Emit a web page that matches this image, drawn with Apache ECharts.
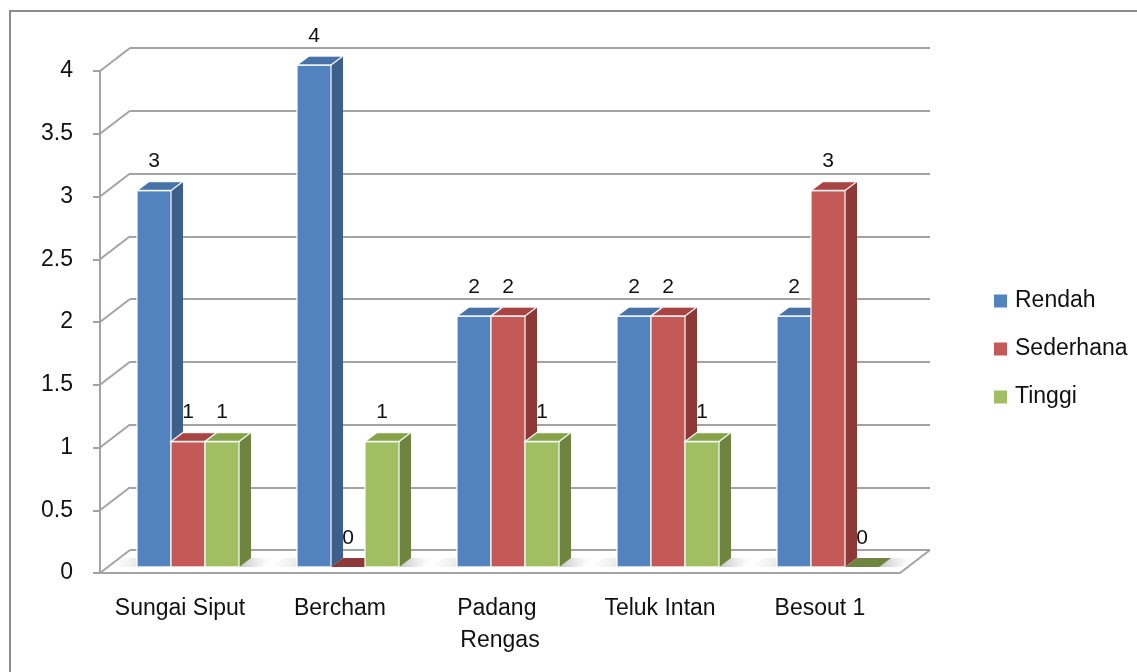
<!DOCTYPE html>
<html><head><meta charset="utf-8">
<script src="https://cdn.jsdelivr.net/npm/echarts@6/dist/echarts.min.js"></script>
<style>html,body{margin:0;padding:0;background:#fff}#c{width:1137px;height:672px}</style>
</head><body><div id="c"></div>
<script>
const categories = ['Sungai Siput', 'Bercham', 'Padang Rengas', 'Teluk Intan', 'Besout 1'];
const seriesNames = ['Rendah', 'Sederhana', 'Tinggi'];
const rendah = [3, 4, 2, 2, 2];
const sederhana = [1, 0, 2, 2, 3];
const tinggi = [1, 1, 1, 1, 0];
const yTicks = [0, 0.5, 1, 1.5, 2, 2.5, 3, 3.5, 4];

const values = [rendah, sederhana, tinggi];
const frontColors = ['#5283be', '#c45a57', '#a0bf62'];
const topColors = ['#4773a8', '#a84441', '#86a34c'];
const sideColors = ['#3d5f8c', '#8c3937', '#6f843e'];
const FONT = 'Liberation Sans';
const GRIDC = '#a3a3a3';
const WALL_DX = 30, WALL_DY = -23;
const BAR_DX = 8, BAR_DY = -6, DEPTH_DX = 12, DEPTH_DY = -9;

function barSeries(s) {
  return {
    type: 'custom', name: seriesNames[s], xAxisIndex: 0, yAxisIndex: 0, z: 5 + s,
    itemStyle: { color: frontColors[s] },
    data: values[s].map((v, i) => [i, v]),
    renderItem(params, api) {
      const cat = api.value(0), val = api.value(1);
      const top = api.coord([cat, val]);
      const base = api.coord([cat, 0]);
      const band = api.size([1, 0])[0];
      const w = band * 34 / 160;
      const x0 = top[0] - 1.5 * w + s * w + BAR_DX;
      const x1 = x0 + w;
      const yt = top[1] + BAR_DY, yb = base[1] + BAR_DY;
      const st = { stroke: 'rgba(255,255,255,0.9)', lineWidth: 1.3 };
      return { type: 'group', children: [
        { type: 'polygon', shape: { points: [[x1, yt], [x1 + DEPTH_DX, yt + DEPTH_DY], [x1 + DEPTH_DX, yb + DEPTH_DY], [x1, yb]] }, style: { fill: sideColors[s] } },
        { type: 'rect', shape: { x: x0, y: yt, width: w, height: yb - yt }, style: Object.assign({ fill: frontColors[s] }, val > 0 ? st : {}) },
        { type: 'polygon', shape: { points: [[x0, yt], [x0 + DEPTH_DX, yt + DEPTH_DY], [x1 + DEPTH_DX, yt + DEPTH_DY], [x1, yt]] }, style: Object.assign({ fill: val > 0 ? topColors[s] : sideColors[s] }, val > 0 ? st : {}) },
        { type: 'text', z2: 50, x: (x0 + x1) / 2, y: yt - 29, style: { text: String(val), font: '21px "Liberation Sans"', fontSize: 21, fontFamily: FONT, fill: '#111', align: 'center', verticalAlign: 'middle' } }
      ] };
    }
  };
}

const wallSeries = {
  type: 'custom', xAxisIndex: 0, yAxisIndex: 0, z: 1, silent: true,
  data: yTicks.map(v => [0, v]),
  renderItem(params, api) {
    const p = api.coord([0, api.value(1)]);
    const band = api.size([1, 0])[0];
    const xl = p[0] - band / 2;
    const children = [
      { type: 'line', shape: { x1: xl, y1: p[1], x2: xl + WALL_DX, y2: p[1] + WALL_DY }, style: { stroke: GRIDC, lineWidth: 2 } }
    ];
    if (api.value(1) === 0) {
      const xr = xl + band * categories.length;
      children.push({ type: 'line', shape: { x1: xr, y1: p[1], x2: xr + WALL_DX, y2: p[1] + WALL_DY }, style: { stroke: GRIDC, lineWidth: 2 } });
    }
    return { type: 'group', children };
  }
};

const shadowSeries = {
  type: 'custom', xAxisIndex: 0, yAxisIndex: 0, z: 2, silent: true,
  data: categories.map((c, i) => [i, 0]),
  renderItem(params, api) {
    const p = api.coord([api.value(0), 0]);
    const band = api.size([1, 0])[0];
    const w = band * 34 / 160;
    const xr = p[0] + 1.5 * w + BAR_DX + DEPTH_DX;
    const xl = p[0] - 1.5 * w + BAR_DX;
    const y = p[1] + BAR_DY;
    return { type: 'group', children: [
      { type: 'polygon', shape: { points: [[xr - 4, y + DEPTH_DY], [xr + 22, y + DEPTH_DY], [xr + 10, y], [xr - 12, y]] },
        style: { fill: new echarts.graphic.LinearGradient(0, 0, 1, 0, [{ offset: 0, color: 'rgba(120,120,120,0.45)' }, { offset: 1, color: 'rgba(200,200,200,0)' }]) } },
      { type: 'polygon', shape: { points: [[xl - 26, y], [xl + 4, y], [xl + 12, y + DEPTH_DY], [xl - 14, y + DEPTH_DY]] },
        style: { fill: new echarts.graphic.LinearGradient(0, 0, 1, 0, [{ offset: 0, color: 'rgba(200,200,200,0)' }, { offset: 1, color: 'rgba(150,150,150,0.35)' }]) } }
    ] };
  }
};

const chart = echarts.init(document.getElementById('c'));
chart.setOption({
  animation: false,
  textStyle: { fontFamily: FONT },
  graphic: [{ type: 'rect', shape: { x: 10, y: 11, width: 1300, height: 800 }, style: { fill: 'none', stroke: '#8c8c8c', lineWidth: 2 }, z: -10 }],
  grid: [
    { left: 100, top: 71, width: 800, height: 502 },
    { left: 100 + WALL_DX, top: 71 + WALL_DY, width: 800, height: 502 }
  ],
  xAxis: [
    { type: 'category', gridIndex: 0, data: categories,
      axisLine: { lineStyle: { color: GRIDC, width: 2 } },
      axisTick: { length: 7, lineStyle: { color: GRIDC, width: 2 } },
      axisLabel: { fontSize: 23, fontFamily: FONT, color: '#111', margin: 20, lineHeight: 32, width: 150, overflow: 'break', interval: 0 } },
    { type: 'category', gridIndex: 1, data: categories, show: false }
  ],
  yAxis: [
    { type: 'value', gridIndex: 0, min: 0, max: 4, interval: 0.5,
      axisLine: { show: true, lineStyle: { color: GRIDC, width: 2 } },
      axisTick: { show: true, length: 7, lineStyle: { color: GRIDC, width: 2 } },
      splitLine: { show: false },
      axisLabel: { fontSize: 23, fontFamily: FONT, color: '#111', margin: 27 } },
    { type: 'value', gridIndex: 1, min: 0, max: 4, interval: 0.5,
      axisLine: { show: false }, axisTick: { show: false }, axisLabel: { show: false },
      splitLine: { show: true, lineStyle: { color: GRIDC, width: 2 } } }
  ],
  legend: {
    orient: 'vertical', left: 989, top: 284, itemWidth: 13, itemHeight: 13, itemGap: 24,
    icon: 'rect', data: seriesNames,
    textStyle: { fontSize: 23, fontFamily: FONT, color: '#111', lineHeight: 24, padding: [0, 0, 0, 3] }
  },
  series: [wallSeries, shadowSeries, barSeries(0), barSeries(1), barSeries(2)]
});
</script>
</body></html>
